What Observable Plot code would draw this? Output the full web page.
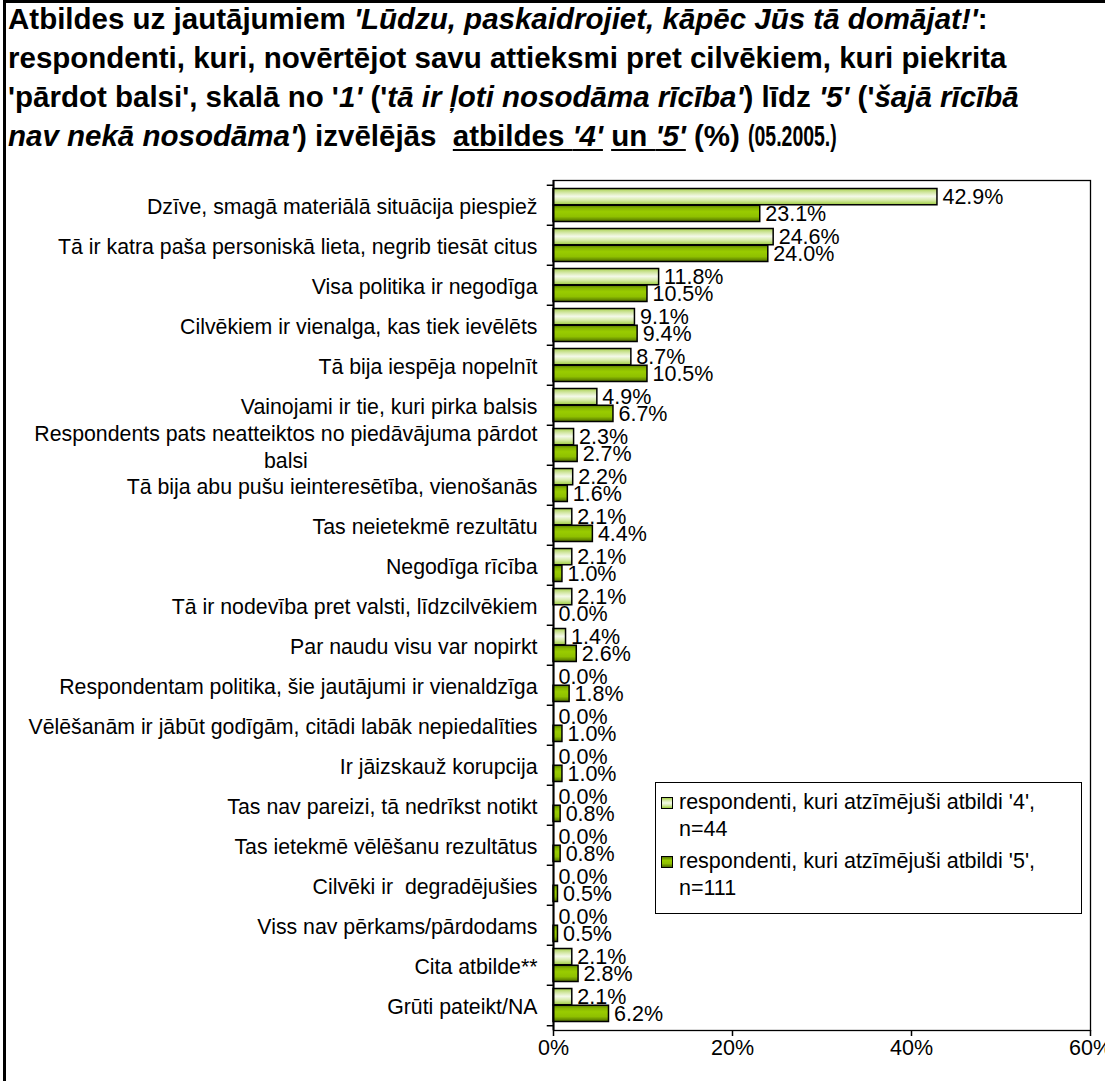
<!DOCTYPE html>
<html>
<head>
<meta charset="utf-8">
<script src="https://cdn.jsdelivr.net/npm/d3@7"></script>
<script src="https://cdn.jsdelivr.net/npm/@observablehq/plot@0.6"></script>
<style>
  html, body { margin: 0; padding: 0; background: #fff; }
  #wrap { position: relative; width: 1105px; height: 1081px; overflow: hidden; font-family: "Liberation Sans", Arial, sans-serif; }
  #bl { position: absolute; left: 3px; top: 0; width: 3px; height: 1081px; background: #000; }
  #bt { position: absolute; left: 3px; top: 0; width: 1102px; height: 3px; background: #000; }
  #title { position: absolute; left: 8px; top: -1px; width: 1095px; height: 160px; font-weight: bold; font-size: 29.5px; line-height: 39px; color: #000; padding-top: 0px; white-space: nowrap; }
  #title i { font-style: italic; }
  #title u { text-decoration: underline; text-underline-offset: 3px; }
  #title .narrow { display: inline-block; transform: scaleX(0.66); transform-origin: left center; }
  #chart { position: absolute; left: 0; top: 160px; }
  #legend { position: absolute; left: 655px; top: 782px; width: 427px; height: 132px; border: 1.5px solid #000; background: #fff; font-size: 21.5px; box-sizing: border-box; }
  .li { position: absolute; left: 5px; line-height: 27px; }
  .sw { position: absolute; left: 0; width: 12px; height: 12px; border: 1.5px solid #000; box-sizing: border-box; }
  .lt { position: absolute; left: 18px; white-space: nowrap; }
</style>
</head>
<body>
<div id="wrap">
  <div id="title">Atbildes uz jautājumiem <i>'Lūdzu, paskaidrojiet, kāpēc Jūs tā domājat!'</i>:<br>respondenti, kuri, novērtējot savu attieksmi pret cilvēkiem, kuri piekrita<br>'pārdot balsi', skalā no '<i>1'</i> ('<i>tā ir ļoti nosodāma rīcība'</i>) līdz <i>'5'</i> ('<i>šajā rīcībā<br>nav nekā nosodāma'</i>) izvēlējās &nbsp;<u>atbildes <i>'4'</i></u> <u>un <i>'5'</i></u> (%) <span class="narrow">(05.2005.)</span></div>
  <div id="chart"></div>
  <div id="legend">
    <div class="li" style="top:6px;"><div class="sw" style="top:8px;background:linear-gradient(#a6cf4a,#d6eaa8 25%,#f4f9ea 50%,#d3e8a6 75%,#9ccc3c);"></div><div class="lt">respondenti, kuri atzīmējuši atbildi '4',<br>n=44</div></div>
    <div class="li" style="top:65px;"><div class="sw" style="top:8px;background:linear-gradient(#5a7d00,#99cc00 35%,#8fc000 65%,#4d6b00);"></div><div class="lt">respondenti, kuri atzīmējuši atbildi '5',<br>n=111</div></div>
  </div>
  <div id="bl"></div>
  <div id="bt"></div>
</div>
<script>
const categories = [
  "Dzīve, smagā materiālā situācija piespiež",
  "Tā ir katra paša personiskā lieta, negrib tiesāt citus",
  "Visa politika ir negodīga",
  "Cilvēkiem ir vienalga, kas tiek ievēlēts",
  "Tā bija iespēja nopelnīt",
  "Vainojami ir tie, kuri pirka balsis",
  "Respondents pats neatteiktos no piedāvājuma pārdot balsi",
  "Tā bija abu pušu ieinteresētība, vienošanās",
  "Tas neietekmē rezultātu",
  "Negodīga rīcība",
  "Tā ir nodevība pret valsti, līdzcilvēkiem",
  "Par naudu visu var nopirkt",
  "Respondentam politika, šie jautājumi ir vienaldzīga",
  "Vēlēšanām ir jābūt godīgām, citādi labāk nepiedalīties",
  "Ir jāizskauž korupcija",
  "Tas nav pareizi, tā nedrīkst notikt",
  "Tas ietekmē vēlēšanu rezultātus",
  "Cilvēki ir  degradējušies",
  "Viss nav pērkams/pārdodams",
  "Cita atbilde**",
  "Grūti pateikt/NA"
];
const answer4 = [42.9, 24.6, 11.8, 9.1, 8.7, 4.9, 2.3, 2.2, 2.1, 2.1, 2.1, 1.4, 0.0, 0.0, 0.0, 0.0, 0.0, 0.0, 0.0, 2.1, 2.1];
const answer5 = [23.1, 24.0, 10.5, 9.4, 10.5, 6.7, 2.7, 1.6, 4.4, 1.0, 0.0, 2.6, 1.8, 1.0, 1.0, 0.8, 0.8, 0.5, 0.5, 2.8, 6.2];
const xTicks = [0, 20, 40, 60];

const d4 = categories.map((c, i) => ({cat: c, v: answer4[i]}));
const d5 = categories.map((c, i) => ({cat: c, v: answer5[i]}));

const W = 1105, H = 921;
const mT = 20, mB = 51, mL = 553, mR = 15;
const bw = (H - mT - mB) / categories.length;
const half = bw / 2;
const edge = 3.5;
const c4 = -(half - edge) / 2 - 0.1;
const c5 = (half - edge) / 2 + 0.1;

const font = "Liberation Sans, Arial, sans-serif";
const wrapped = "Respondents pats neatteiktos no piedāvājuma pārdot balsi";

const plot = Plot.plot({
  width: W, height: H,
  marginTop: mT, marginBottom: mB, marginLeft: mL, marginRight: mR,
  style: {fontFamily: font, fontSize: "21.5px", color: "#000", background: "transparent"},
  x: {domain: [0, 60], label: null},
  y: {domain: categories, padding: 0, label: null},
  marks: [
    Plot.frame({stroke: "#000", strokeWidth: 1.3}),
    Plot.barX(d4, {y: "cat", x: "v", fill: "url(#g4)", stroke: "#000", strokeWidth: 1.5, insetTop: edge, insetBottom: half}),
    Plot.barX(d5, {y: "cat", x: "v", fill: "url(#g5)", stroke: "#000", strokeWidth: 1.5, insetTop: half, insetBottom: edge}),
    Plot.text(d4, {y: "cat", x: "v", text: d => d.v.toFixed(1) + "%", dx: 5, dy: c4, textAnchor: "start", fontSize: 21.5, fill: "#000"}),
    Plot.text(d5, {y: "cat", x: "v", text: d => d.v.toFixed(1) + "%", dx: 5, dy: c5, textAnchor: "start", fontSize: 21.5, fill: "#000"}),
    Plot.ruleY(categories, {y: d => d, dy: -half, x1: -0.7, x2: 0, stroke: "#000", strokeWidth: 1.5}),
    Plot.ruleY(categories.slice(-1), {y: d => d, dy: half, x1: -0.7, x2: 0, stroke: "#000", strokeWidth: 1.5}),
    Plot.axisY({tickSize: 0, tickPadding: 16, fontSize: 21.3, label: null,
      tickFormat: d => d === wrapped ? "Respondents pats neatteiktos no piedāvājuma pārdot\nbalsi" : d,
      lineHeight: 1.27}),
    Plot.axisX({ticks: xTicks, tickFormat: d => d + "%", tickSize: 6, tickPadding: 3, fontSize: 21.5, label: null, stroke: "#000", strokeWidth: 1.5}),
    Plot.ruleX([0], {stroke: "#000", strokeWidth: 2})
  ]
});

const ns = "http://www.w3.org/2000/svg";
const defs = document.createElementNS(ns, "defs");
function grad(id, stops) {
  const g = document.createElementNS(ns, "linearGradient");
  g.setAttribute("id", id);
  g.setAttribute("x1", "0"); g.setAttribute("y1", "0");
  g.setAttribute("x2", "0"); g.setAttribute("y2", "1");
  for (const [o, c] of stops) {
    const s = document.createElementNS(ns, "stop");
    s.setAttribute("offset", o);
    s.setAttribute("stop-color", c);
    g.appendChild(s);
  }
  defs.appendChild(g);
}
grad("g4", [[0, "#a6cf4a"], [0.22, "#cfe59c"], [0.48, "#f4f9ea"], [0.72, "#d6eaa8"], [1, "#9ccc3c"]]);
grad("g5", [[0, "#5a7d00"], [0.18, "#86b500"], [0.4, "#99cc00"], [0.7, "#8fc000"], [1, "#4d6b00"]]);
plot.insertBefore(defs, plot.firstChild);

document.getElementById("chart").appendChild(plot);

// center the second line of the wrapped category label under the first
for (const t of plot.querySelectorAll("text")) {
  const sp = t.querySelectorAll("tspan");
  if (sp.length === 2 && sp[1].textContent === "balsi") {
    const w0 = sp[0].getComputedTextLength();
    const w1 = sp[1].getComputedTextLength();
    const x = sp[0].getAttribute("x");
    sp[1].setAttribute("x", (x ? +x : 0) - (w0 - w1) / 2);
  }
}
</script>
</body>
</html>
